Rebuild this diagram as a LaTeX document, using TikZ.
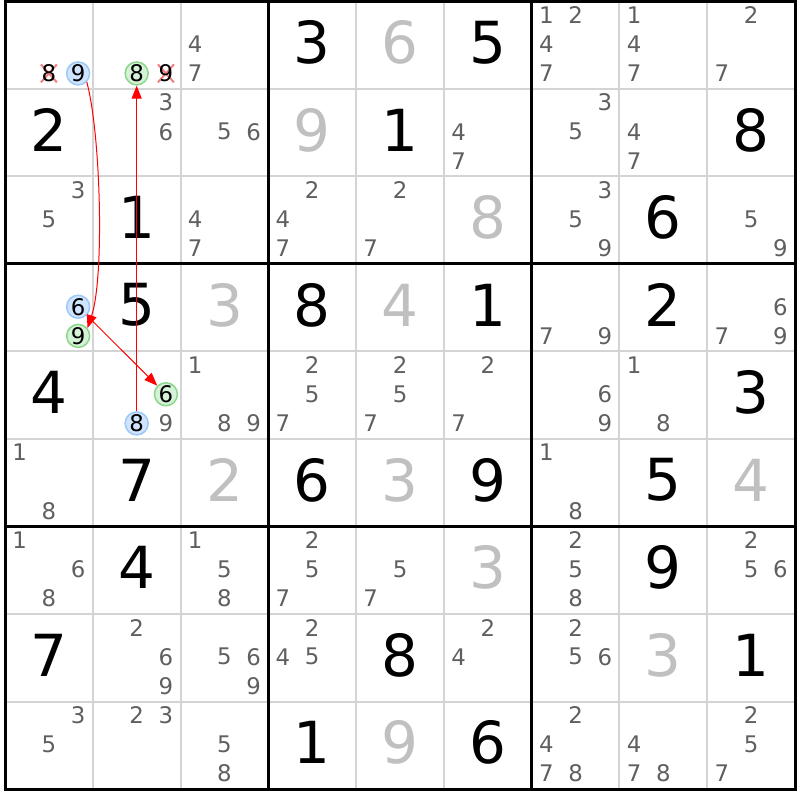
\documentclass[tikz,border=0pt]{standalone}
\usepackage{fontspec}
\setmainfont{DejaVu Sans}
\usetikzlibrary{arrows.meta}
\definecolor{candgray}{HTML}{5F5F5F}
\definecolor{solvedgray}{HTML}{C0C0C0}
\definecolor{gridgray}{HTML}{D4D4D4}
\definecolor{bluefill}{HTML}{CFE5FF}
\definecolor{bluedraw}{HTML}{9CC8F5}
\definecolor{greenfill}{HTML}{D6F2D6}
\definecolor{greendraw}{HTML}{8CD68C}
\definecolor{crossred}{HTML}{F28080}
\begin{document}
\begin{tikzpicture}[x=0.1mm, y=-0.1mm,
    given/.style={inner sep=0, font=\fontsize{16.5}{18}\selectfont},
    solved/.style={given, text=solvedgray},
    cand/.style={inner sep=0, text=candgray, font=\fontsize{6.5}{7}\selectfont},
    bluecand/.style={cand, text=black, circle, draw=bluedraw, fill=bluefill, line width=0.15mm, minimum size=2.3mm},
    greencand/.style={cand, text=black, circle, draw=greendraw, fill=greenfill, line width=0.15mm, minimum size=2.3mm},
    crossed/.style={cand, text=black},
    crossline/.style={draw=crossred, line width=0.2mm},
    thinline/.style={draw=gridgray, line width=0.2mm},
    thickline/.style={draw=black, line width=0.3mm},
    chainarrow/.style={draw=red, line width=0.1mm, -{Triangle[length=1.3mm, width=1mm]}}]
  \newcommand{\gridx}{5}
  \newcommand{\gridy}{1.5}
  \newcommand{\cellw}{87.78}
  \newcommand{\cellh}{87.5}
  \newcommand{\bigdigit}[4][given]{\node[#1] (r#2c#3) at ({\gridx+(#3-0.5)*\cellw},{\gridy+(#2-0.5)*\cellh-2.5}) {#4};}
  \newcommand{\cand}[4][cand]{\node[#1] (r#2c#3d#4) at ({\gridx+(#3-1)*\cellw+(mod(#4-1,3)+0.5)*\cellw/3},{\gridy+(#2-1)*\cellh+(floor((#4-1)/3)+0.5)*\cellh/3-1}) {#4};}
  \useasboundingbox (0,0) rectangle (800,800);
  % grid
  \foreach \i in {1,2,4,5,7,8}
    \draw[thinline] (\gridx+\i*\cellw,\gridy) -- ++(0,9*\cellh)
      (\gridx,\gridy+\i*\cellh) -- ++(9*\cellw,0);
  \foreach \i in {3,6}
    \draw[thickline] (\gridx+\i*\cellw,\gridy) -- ++(0,9*\cellh)
      (\gridx,\gridy+\i*\cellh) -- ++(9*\cellw,0);
  \draw[thickline] (\gridx,\gridy) rectangle ++(9*\cellw,9*\cellh);
  % givens
  \foreach \rr/\cc/\vv in {1/4/3, 1/6/5, 2/1/2, 2/5/1, 2/9/8, 3/2/1, 3/8/6,
      4/2/5, 4/4/8, 4/6/1, 4/8/2, 5/1/4, 5/9/3, 6/2/7, 6/4/6, 6/6/9, 6/8/5,
      7/2/4, 7/8/9, 8/1/7, 8/5/8, 8/9/1, 9/4/1, 9/6/6}
    {\bigdigit{\rr}{\cc}{\vv}}
  % solved
  \foreach \rr/\cc/\vv in {1/5/6, 2/4/9, 3/6/8, 4/3/3, 4/5/4, 6/3/2, 6/5/3,
      6/9/4, 7/6/3, 8/8/3, 9/5/9}
    {\bigdigit[solved]{\rr}{\cc}{\vv}}
  % candidates
  \foreach \rr/\cc/\ds in {1/3/{4,7}, 1/7/{1,2,4,7}, 1/8/{1,4,7}, 1/9/{2,7},
      2/2/{3,6}, 2/3/{5,6}, 2/6/{4,7}, 2/7/{3,5}, 2/8/{4,7},
      3/1/{3,5}, 3/3/{4,7}, 3/4/{2,4,7}, 3/5/{2,7}, 3/7/{3,5,9}, 3/9/{5,9},
      4/7/{7,9}, 4/9/{6,7,9},
      5/3/{1,8,9}, 5/4/{2,5,7}, 5/5/{2,5,7}, 5/6/{2,7}, 5/7/{6,9}, 5/8/{1,8},
      6/1/{1,8}, 6/7/{1,8},
      7/1/{1,6,8}, 7/3/{1,5,8}, 7/4/{2,5,7}, 7/5/{5,7}, 7/7/{2,5,8}, 7/9/{2,5,6},
      8/2/{2,6,9}, 8/3/{5,6,9}, 8/4/{2,4,5}, 8/6/{2,4}, 8/7/{2,5,6},
      9/1/{3,5}, 9/2/{2,3}, 9/3/{5,8}, 9/7/{2,4,7,8}, 9/8/{4,7,8}, 9/9/{2,5,7}}
    {\foreach \dd in \ds {\cand{\rr}{\cc}{\dd}}}
  % crossed out 8 and 9 in row 1
  \foreach \cx/\cy in {48.9/73.4, 165.9/73.4}
    \draw[crossline] (\cx-8,\cy-9) -- (\cx+8,\cy+9) (\cx-8,\cy+9) -- (\cx+8,\cy-9);
  % chain
  \cand[crossed]{1}{1}{8}
  \cand[bluecand]{1}{1}{9}
  \cand[greencand]{1}{2}{8}
  \cand[crossed]{1}{2}{9}
  \cand[bluecand]{4}{1}{6}
  \cand[greencand]{4}{1}{9}
  \cand[greencand]{5}{2}{6}
  \cand[bluecand]{5}{2}{8}
  \cand{5}{2}{9}
  \draw[chainarrow] (r5c2d8) -- (r1c2d8);
  \draw[chainarrow, shorten <=0.5mm] (r4c1d6) -- (r5c2d6);
  \draw[chainarrow] (r1c1d9.-45) .. controls +(14,52) and +(17,-51) .. (r4c1d9.40);
\end{tikzpicture}
\end{document}
